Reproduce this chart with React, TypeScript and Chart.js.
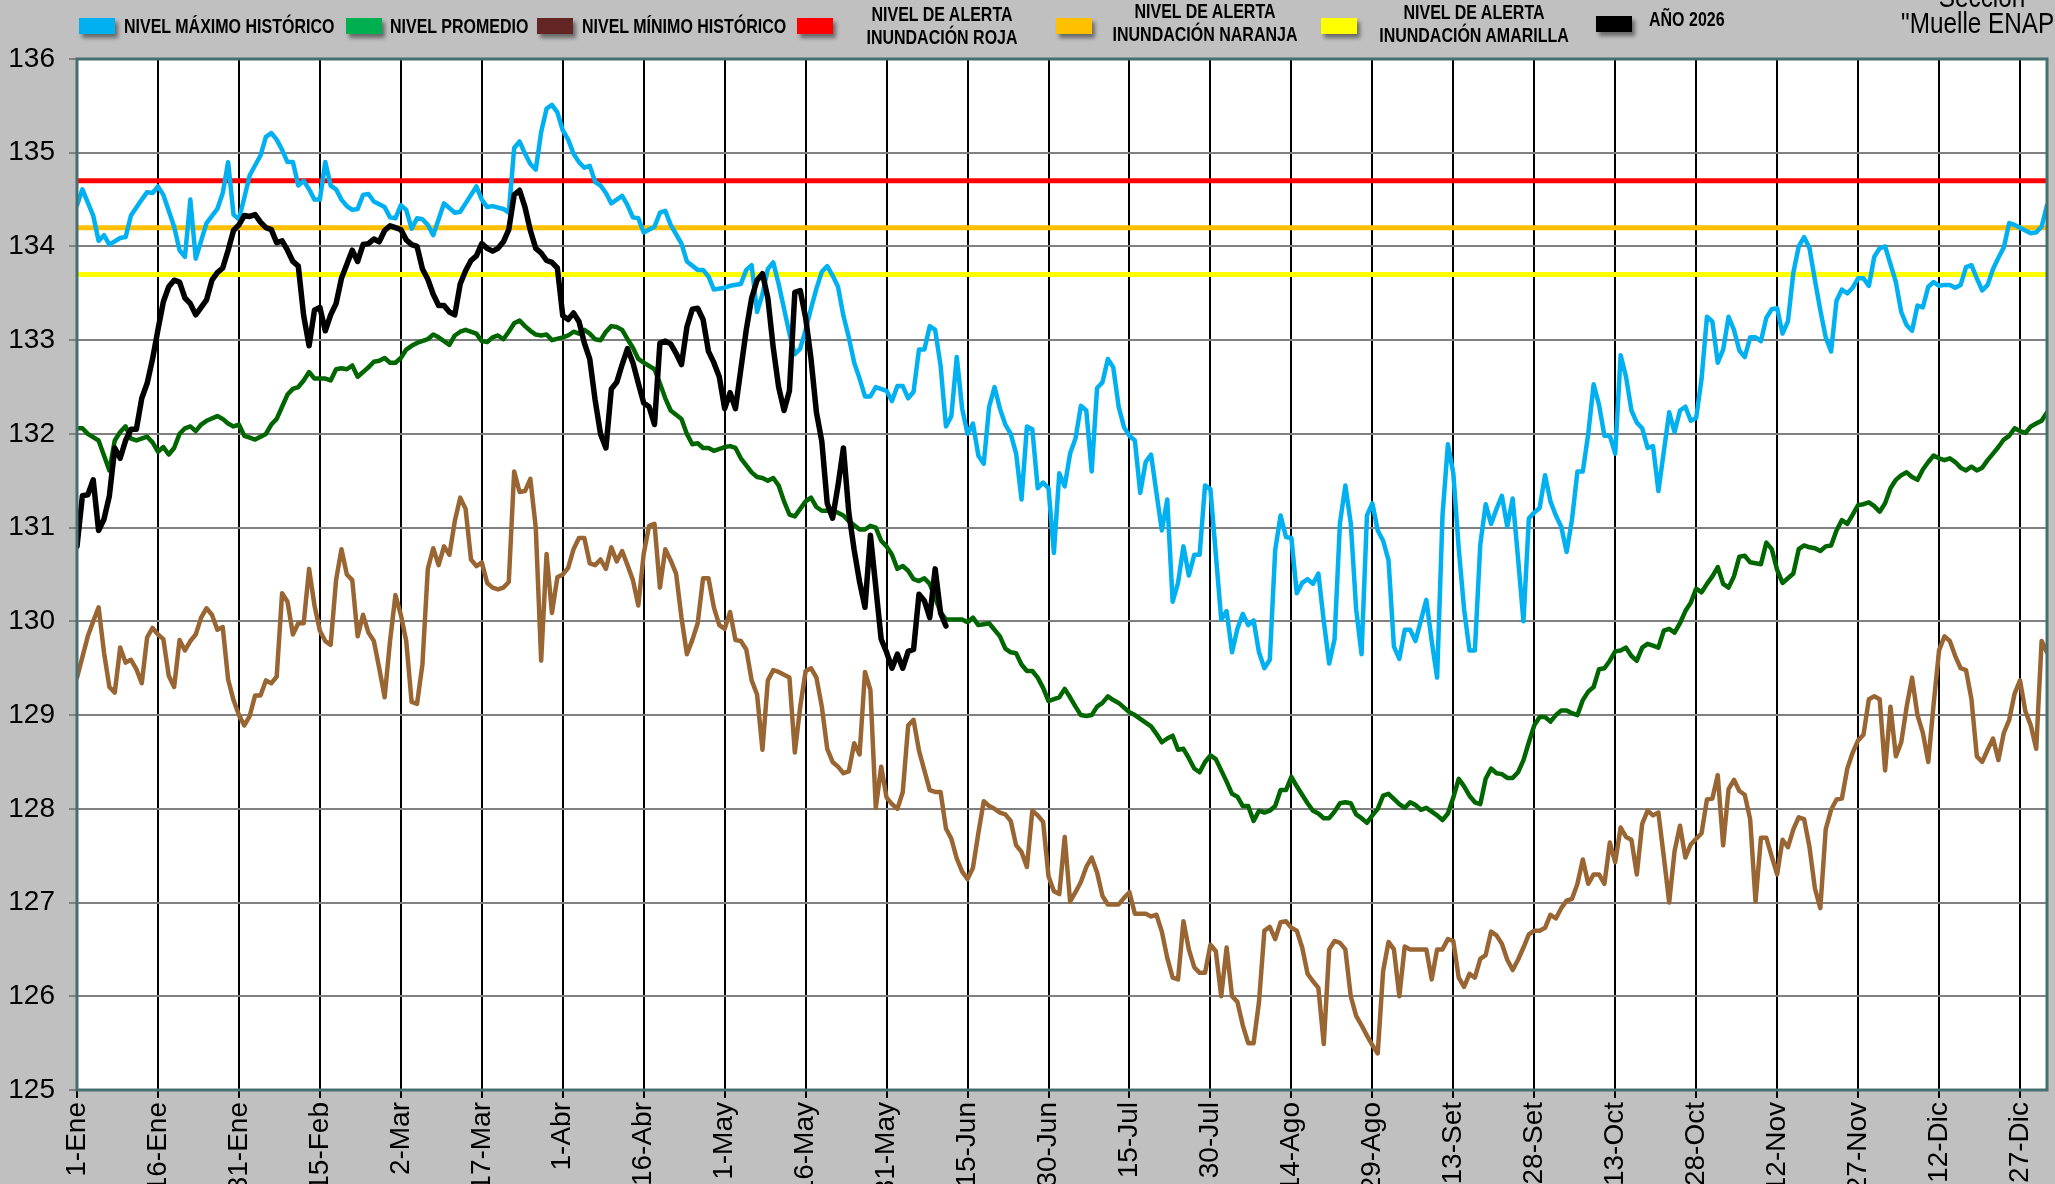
import React, { useEffect, useRef } from 'react';
import { Chart, registerables } from 'chart.js';

Chart.register(...registerables);

const W = 2055;
const H = 1184;

const tickDays = [1, 16, 31, 46, 61, 76, 91, 106, 121, 136, 151, 166, 181, 196, 211, 226, 241, 256, 271, 286, 301, 316, 331, 346, 361];
const tickLabels = ['1-Ene', '16-Ene', '31-Ene', '15-Feb', '2-Mar', '17-Mar', '1-Abr', '16-Abr', '1-May', '16-May', '31-May', '15-Jun', '30-Jun', '15-Jul', '30-Jul', '14-Ago', '29-Ago', '13-Set', '28-Set', '13-Oct', '28-Oct', '12-Nov', '27-Nov', '12-Dic', '27-Dic'];
const yTicks = [125, 126, 127, 128, 129, 130, 131, 132, 133, 134, 135, 136];

const alertaRoja = 134.7;
const alertaNaranja = 134.2;
const alertaAmarilla = 133.7;

// one value per day of the year (day 1 = 1-Ene); null = not read
const nivelMaximo = [
  134.44, 134.61, null, 134.33, 134.06, 134.12, 134.02, null, 134.09, 134.10,
  134.33, null, 134.50, 134.58, 134.57, 134.64, 134.55, 134.38, 134.21, 133.96,
  133.89, 134.50, 133.87, 134.06, 134.25, null, 134.40, 134.57, 134.90, 134.34,
  134.29, 134.52, 134.76, null, 134.97, 135.17, 135.21, 135.14, 135.03, 134.90,
  134.90, 134.65, 134.70, 134.61, 134.50, 134.50, 134.90, 134.65, 134.61, 134.50,
  134.43, 134.39, 134.40, 134.55, 134.56, 134.48, null, 134.42, 134.31, 134.30,
  134.44, 134.39, 134.19, 134.30, 134.29, 134.23, 134.12, 134.29, 134.46, null,
  134.36, 134.37, 134.46, 134.55, 134.64, 134.50, 134.42, 134.43, null, 134.40,
  134.36, 135.05, 135.12, 134.99, 134.88, 134.82, 135.22, 135.47, 135.51, 135.43,
  135.24, 135.14, 134.99, 134.90, 134.84, 134.86, 134.69, 134.65, 134.57, 134.46,
  null, 134.54, 134.44, 134.31, 134.30, 134.15, null, 134.21, 134.36, 134.38,
  134.23, null, 134.03, 133.84, null, 133.75, 133.75, 133.68, 133.54, null,
  133.56, 133.58, null, 133.60, 133.75, 133.80, 133.30, 133.49, 133.76, 133.83,
  133.60, null, 133.07, 132.85, 132.91, 133.11, 133.34, 133.55, 133.73, 133.79,
  133.69, 133.57, 133.26, 133.03, 132.76, 132.59, 132.40, 132.40, 132.50, null,
  132.46, 132.35, 132.51, 132.51, 132.38, 132.45, 132.90, 132.90, 133.15, 133.11,
  132.73, 132.08, 132.19, 132.82, 132.27, 132.00, 132.11, 131.77, 131.68, 132.29,
  132.50, 132.27, 132.10, 132.00, 131.79, 131.30, 132.08, 132.05, 131.42, 131.48,
  131.42, 130.73, 131.58, 131.44, 131.79, 131.95, 132.30, 132.25, 131.60, 132.49,
  132.55, 132.80, 132.71, 132.29, 132.07, 131.98, 131.93, 131.37, 131.70, 131.78,
  131.37, 130.97, 131.30, 130.21, 130.41, 130.80, 130.49, 130.71, 130.71, 131.45,
  131.41, null, 130.02, 130.11, 129.67, 129.92, 130.08, 129.96, 130.01, 129.67,
  129.50, 129.59, 130.76, 131.13, 130.90, 130.89, 130.30, 130.41, 130.45, 130.40,
  130.51, 130.00, 129.55, 129.81, 131.05, 131.45, 131.05, 130.13, 129.65, 131.13,
  131.26, 130.97, 130.86, 130.65, 129.73, 129.60, 129.91, 129.91, 129.79, 130.01,
  130.23, 129.79, 129.40, 131.13, 131.89, 131.58, 130.78, 130.13, 129.69, 129.69,
  130.82, 131.25, 131.04, 131.20, 131.34, 131.01, 131.31, 130.67, 130.00, 131.10,
  131.16, 131.21, 131.56, 131.28, 131.13, 131.01, 130.74, 131.09, 131.60, 131.60,
  132.00, 132.53, 132.31, 131.98, 131.98, 131.79, 132.84, 132.61, 132.25, 132.12,
  132.06, 131.85, 131.87, 131.39, 131.81, 132.23, 132.02, 132.25, 132.29, 132.14,
  132.17, 132.59, 133.25, 133.20, 132.76, 132.90, 133.25, 133.11, 132.89, 132.82,
  133.03, 133.03, 132.99, 133.24, 133.33, 133.34, 133.07, 133.20, 133.72, 134.00,
  134.10, 133.98, 133.64, 133.32, 133.03, 132.88, 133.42, 133.54, 133.50, 133.56,
  133.66, 133.66, 133.58, 133.89, 133.98, 134.00, 133.81, 133.62, 133.30, 133.16,
  133.10, 133.37, 133.35, 133.57, 133.62, 133.58, 133.59, 133.59, 133.56, 133.59,
  133.78, 133.80, 133.66, 133.53, 133.59, 133.76, 133.88, 133.99, 134.25, 134.23,
  null, 134.17, 134.14, 134.15, 134.21, 134.44,
];

const nivelPromedio = [
  132.06, 132.06, 132.00, null, 131.93, 131.77, 131.61, 131.93, 132.02, 132.08,
  131.95, 131.93, null, 131.97, 131.91, 131.81, 131.86, 131.78, 131.85, 132.00,
  132.06, 132.08, 132.03, 132.10, 132.14, null, 132.19, 132.16, 132.11, 132.08,
  132.10, 131.98, 131.96, 131.94, null, 132.00, 132.10, 132.16, 132.29, 132.42,
  132.48, 132.50, 132.57, 132.66, 132.59, null, 132.59, 132.57, 132.69, 132.70,
  132.69, 132.73, 132.61, null, 132.71, 132.77, 132.78, 132.81, 132.76, 132.76,
  132.81, 132.90, 132.94, 132.97, null, 133.01, 133.06, 133.03, 132.99, 132.95,
  133.05, 133.09, 133.11, null, 133.07, 132.99, 132.98, 133.03, 133.05, 133.01,
  133.09, 133.18, 133.21, 133.15, 133.10, 133.06, 133.05, 133.06, 133.00, null,
  133.03, 133.05, 133.09, 133.07, 133.11, 133.07, 133.01, 133.00, 133.09, 133.15,
  133.14, 133.11, 133.01, 132.92, 132.80, 132.76, null, 132.69, 132.54, 132.38,
  132.25, null, 132.16, 132.00, 131.89, 131.90, 131.85, 131.85, 131.82, null,
  131.86, 131.87, 131.85, 131.74, null, 131.59, 131.54, 131.53, 131.50, 131.53,
  131.45, 131.28, 131.14, 131.12, 131.20, 131.28, 131.32, 131.22, 131.18, null,
  131.18, 131.16, 131.13, 131.07, null, 130.98, 130.98, 131.02, 131.00, 130.86,
  130.80, 130.71, 130.56, 130.59, 130.54, 130.45, 130.43, 130.46, 130.40, 130.25,
  130.10, 130.02, null, 130.02, 130.02, 129.99, 130.04, 129.96, 129.97, 129.98,
  null, 129.84, 129.71, 129.67, 129.66, 129.54, 129.47, 129.47, 129.40, 129.29,
  129.15, 129.17, 129.19, 129.28, 129.19, 129.09, 129.00, 128.99, 129.00, 129.09,
  129.13, 129.20, 129.16, 129.13, 129.08, 129.03, 129.00, 128.96, 128.92, 128.88,
  128.80, 128.71, 128.75, 128.78, 128.63, 128.64, 128.54, 128.43, 128.39, 128.50,
  128.57, 128.53, 128.41, 128.29, 128.16, 128.13, 128.03, 128.03, 127.87, 127.98,
  127.96, 127.98, 128.03, 128.20, 128.20, 128.34, 128.24, 128.15, 128.06, 127.98,
  127.95, 127.90, 127.90, 127.97, 128.06, 128.07, 128.06, 127.94, 127.90, 127.85,
  127.93, 128.00, 128.14, 128.16, null, 128.05, 128.01, 128.07, 128.04, 127.99,
  128.01, 127.97, 127.93, 127.88, 127.95, 128.12, 128.32, 128.24, 128.14, 128.07,
  128.05, 128.32, 128.43, 128.38, 128.37, 128.33, 128.33, 128.39, 128.52, 128.71,
  128.89, 128.98, 128.98, 128.93, 129.00, 129.05, 129.05, 129.02, 129.00, 129.16,
  129.25, 129.30, 129.49, 129.50, 129.58, 129.68, 129.69, 129.72, 129.63, 129.58,
  129.72, 129.76, 129.74, 129.72, 129.90, 129.92, 129.88, 129.98, 130.11, 130.20,
  130.35, 130.31, 130.40, 130.48, 130.58, 130.40, 130.36, 130.48, 130.69, 130.70,
  130.63, 130.62, 130.61, 130.84, 130.77, 130.55, 130.41, 130.46, 130.51, 130.77,
  130.81, 130.79, 130.78, 130.75, 130.80, 130.81, 130.97, 131.08, 131.04, 131.14,
  131.24, 131.25, 131.27, 131.23, 131.17, 131.26, 131.42, 131.51, 131.56, 131.59,
  131.54, 131.51, 131.62, 131.70, 131.77, 131.74, 131.72, 131.74, 131.70, 131.64,
  131.61, 131.65, 131.61, 131.64, 131.72, 131.79, 131.86, 131.94, 131.98, 132.06,
  132.03, 132.01, 132.08, 132.11, 132.14, 132.23,
];

const nivelMinimo = [
  129.40, null, 129.84, 130.00, 130.15, 129.67, 129.30, 129.24, 129.72, 129.56,
  129.59, 129.49, 129.34, 129.83, 129.93, 129.86, 129.81, 129.42, 129.30, 129.80,
  129.69, 129.79, 129.86, 130.04, 130.14, 130.07, 129.91, 129.94, 129.38, 129.16,
  129.00, 128.89, 128.99, 129.21, 129.21, 129.37, 129.34, 129.41, 130.30, 130.21,
  129.86, 129.98, 129.98, 130.56, 130.17, 129.90, 129.79, 129.75, 130.44, 130.77,
  130.50, 130.44, 129.84, 130.07, 129.88, 129.79, 129.50, 129.19, 129.79, 130.28,
  130.07, 129.79, 129.14, 129.12, 129.54, 130.56, 130.78, 130.60, 130.80, 130.71,
  131.07, 131.32, 131.20, 130.66, 130.59, 130.63, 130.41, 130.36, 130.34, 130.36,
  130.42, 131.60, 131.38, 131.39, 131.52, 131.00, 129.58, 130.72, 130.09, 130.47,
  130.50, 130.57, 130.77, 130.89, 130.89, 130.62, 130.60, 130.66, 130.56, 130.79,
  130.64, 130.75, 130.60, 130.44, 130.17, 130.72, 131.02, 131.04, 130.36, 130.77,
  130.65, 130.51, 130.04, 129.65, 129.80, 129.98, 130.46, 130.46, 130.15, 129.96,
  129.92, 130.10, 129.80, 129.79, 129.70, 129.37, 129.22, 128.63, 129.37, 129.48,
  129.46, null, 129.40, 128.60, 129.09, 129.47, 129.50, 129.40, 129.09, 128.64,
  128.50, 128.45, 128.38, 128.40, 128.70, 128.58, 129.46, 129.27, 128.01, 128.45,
  128.12, 128.05, 128.00, 128.18, 128.89, 128.95, 128.62, 128.41, 128.20, 128.18,
  128.18, 127.79, 127.68, 127.47, 127.33, 127.25, 127.37, 127.74, 128.08, 128.03,
  128.00, 127.96, 127.94, 127.87, 127.61, 127.54, 127.38, 127.98, 127.93, 127.86,
  127.28, 127.12, 127.09, 127.70, 127.01, 127.11, 127.22, 127.38, 127.48, 127.32,
  127.07, 126.98, 126.98, 126.98, 127.05, 127.11, 126.88, 126.88, 126.88, 126.85,
  126.87, 126.69, 126.41, 126.20, 126.18, 126.80, 126.50, 126.31, 126.25, 126.25,
  126.55, 126.48, 126.00, 126.52, 126.00, 125.94, 125.69, 125.50, 125.50, 125.94,
  126.70, 126.74, 126.61, 126.79, 126.80, 126.73, 126.70, 126.52, 126.24, 126.16,
  126.09, 125.49, 126.50, 126.59, 126.57, 126.50, 126.00, 125.79, 125.69, 125.58,
  125.48, 125.39, 126.27, 126.58, 126.50, 126.00, 126.53, 126.50, 126.50, 126.50,
  126.50, 126.18, 126.50, 126.50, 126.61, 126.59, 126.20, 126.10, 126.24, 126.20,
  126.40, 126.44, 126.69, 126.65, 126.56, 126.39, 126.28, 126.39, 126.52, 126.66,
  126.70, 126.70, 126.73, 126.87, 126.83, 126.94, 127.02, 127.04, 127.20, 127.46,
  127.20, 127.30, 127.30, 127.20, 127.64, 127.43, 127.80, 127.70, 127.67, 127.30,
  127.84, 127.98, 127.93, 127.96, 127.49, 127.00, 127.55, 127.82, 127.48, 127.62,
  127.68, 127.74, 128.10, 128.11, 128.36, 127.61, 128.21, 128.31, 128.19, 128.15,
  127.89, 127.01, 127.69, 127.69, 127.49, 127.30, 127.67, 127.59, 127.78, 127.91,
  127.89, 127.59, 127.15, 126.94, 127.78, 127.99, 128.10, 128.11, 128.43, 128.60,
  128.73, 128.79, 129.17, 129.20, 129.17, 128.41, 129.09, 128.56, 128.71, 129.09,
  129.40, 129.00, 128.81, 128.50, 129.12, 129.69, 129.84, 129.79, 129.63, 129.50,
  129.48, 129.17, 128.56, 128.50, 128.63, 128.75, 128.52, 128.81, 128.95, 129.23,
  129.37, 129.04, 128.89, 128.64, 129.79, 129.67,
];

const anio2026 = [
  130.80, 131.34, 131.35, 131.51, 130.97, 131.09, 131.34, 131.85, 131.74, 131.93,
  132.05, 132.05, 132.38, 132.54, 132.80, 133.11, 133.41, 133.57, 133.64, 133.62,
  133.45, 133.39, 133.27, 133.35, 133.43, 133.64, 133.72, 133.77, 133.96, 134.17,
  134.23, 134.33, 134.32, 134.34, 134.26, 134.20, 134.18, 134.04, 134.06, 133.96,
  133.84, 133.79, 133.26, 132.94, 133.32, 133.35, 133.10, 133.27, 133.39, 133.66,
  133.81, 133.96, 133.84, 134.02, 134.03, 134.08, 134.05, 134.17, 134.22, 134.20,
  134.18, 134.07, 134.02, 134.00, 133.76, 133.65, 133.49, 133.37, 133.37, 133.30,
  133.27, 133.60, 133.74, 133.85, 133.90, 134.03, 133.98, 133.95, 133.98, 134.05,
  134.18, 134.55, 134.60, 134.42, 134.17, 133.98, 133.93, 133.85, 133.83, 133.77,
  133.26, 133.22, 133.29, 133.20, 132.97, 132.80, 132.36, 132.00, 131.85, 132.48,
  132.55, 132.74, 132.91, 132.76, 132.54, 132.33, 132.29, 132.10, 132.97, 132.99,
  132.96, 132.86, 132.74, 133.14, 133.33, 133.34, 133.22, 132.88, 132.76, 132.61,
  132.27, 132.44, 132.27, 132.69, 133.11, 133.45, 133.64, 133.71, 133.45, 132.92,
  132.50, 132.25, 132.46, 133.51, 133.53, 133.24, 132.80, 132.23, 131.92, 131.26,
  131.10, 131.45, 131.85, 131.16, 130.76, 130.42, 130.15, 130.92, null, 129.81,
  129.67, 129.50, 129.65, 129.50, 129.68, 129.70, 130.29, 130.22, 130.04, 130.56,
  130.09, 129.95,
];

const SANS = "'Liberation Sans', Arial, sans-serif";

const toPoints = (arr: (number | null)[]) => arr.map((v, i) => ({ x: i + 1, y: v }));
const flat = (v: number) => [{ x: 1, y: v }, { x: 366, y: v }];

const plotFrame = {
  id: 'plotFrame',
  beforeDraw(chart: any) {
    const { ctx, chartArea } = chart;
    ctx.save();
    ctx.fillStyle = '#c0c0c0';
    ctx.fillRect(0, 0, chart.width, chart.height);
    ctx.fillStyle = '#ffffff';
    ctx.fillRect(chartArea.left, chartArea.top, chartArea.right - chartArea.left, chartArea.bottom - chartArea.top);
    ctx.restore();
  },
  afterDatasetsDraw(chart: any) {
    const { ctx, chartArea } = chart;
    ctx.save();
    ctx.strokeStyle = '#45706f';
    ctx.lineWidth = 3;
    ctx.strokeRect(chartArea.left, chartArea.top, chartArea.right - chartArea.left, chartArea.bottom - chartArea.top);
    ctx.restore();
  },
};

function LegendBox({ x, y, color }: { x: number; y: number; color: string }) {
  return (
    <div
      style={{
        position: 'absolute', left: x, top: y, width: 36, height: 16, background: color,
        boxShadow: '3px 4px 4px rgba(0,0,0,0.45)',
      }}
    />
  );
}

const legendText: React.CSSProperties = {
  position: 'absolute', fontFamily: SANS, fontWeight: 700, fontSize: 20, color: '#000',
  whiteSpace: 'nowrap', lineHeight: '23px', transform: 'scaleX(0.8)', transformOrigin: 'left top',
};
const legendBlock: React.CSSProperties = {
  ...legendText, width: 300, textAlign: 'center', transformOrigin: 'center top',
};

export default function App() {
  const canvasRef = useRef<HTMLCanvasElement | null>(null);

  useEffect(() => {
    const canvas = canvasRef.current;
    if (!canvas) return;
    const line = (label: string, data: any[], color: string, width: number) => ({
      label, data, borderColor: color, backgroundColor: color, borderWidth: width,
      pointRadius: 0, tension: 0, spanGaps: true, fill: false,
      borderJoinStyle: 'round' as const, borderCapStyle: 'round' as const,
    });
    const chart = new Chart(canvas, {
      type: 'line',
      data: {
        datasets: [
          line('AÑO 2026', toPoints(anio2026), '#000000', 5.5),
          line('NIVEL MÁXIMO HISTÓRICO', toPoints(nivelMaximo), '#00b0f0', 4.5),
          line('NIVEL PROMEDIO', toPoints(nivelPromedio), '#006600', 4.5),
          line('NIVEL MÍNIMO HISTÓRICO', toPoints(nivelMinimo), '#996633', 4.5),
          line('NIVEL DE ALERTA INUNDACIÓN ROJA', flat(alertaRoja), '#ff0000', 5),
          line('NIVEL DE ALERTA INUNDACIÓN NARANJA', flat(alertaNaranja), '#ffc000', 5),
          line('NIVEL DE ALERTA INUNDACIÓN AMARILLA', flat(alertaAmarilla), '#ffff00', 5),
        ],
      },
      options: {
        animation: false,
        responsive: false,
        devicePixelRatio: 1,
        layout: { padding: { top: 59, right: 8, left: 0, bottom: 0 } },
        plugins: { legend: { display: false }, tooltip: { enabled: false } },
        scales: {
          x: {
            type: 'linear',
            min: 1,
            max: 366,
            afterBuildTicks: (s: any) => { s.ticks = tickDays.map((v) => ({ value: v })); },
            afterFit: (s: any) => { s.height = 94; s.paddingLeft = 0; s.paddingRight = 0; },
            ticks: {
              autoSkip: false, minRotation: 90, maxRotation: 90, padding: 4, color: '#000',
              font: { family: SANS, size: 28 },
              callback: (_v: any, i: number) => tickLabels[i],
            },
            grid: { color: '#000000', lineWidth: 2, tickLength: 8, drawTicks: true },
            border: { display: false },
          },
          y: {
            min: 125,
            max: 136,
            afterBuildTicks: (s: any) => { s.ticks = yTicks.map((v) => ({ value: v })); },
            afterFit: (s: any) => { s.width = 77; s.paddingTop = 0; s.paddingBottom = 0; },
            ticks: { padding: 14, color: '#000', font: { family: SANS, size: 28 } },
            grid: { color: '#808080', lineWidth: 2, tickLength: 8, drawTicks: true },
            border: { display: false },
          },
        },
      },
      plugins: [plotFrame],
    });
    return () => chart.destroy();
  }, []);

  return (
    <div style={{ position: 'fixed', left: 0, top: 0, width: W, height: H, overflow: 'hidden', background: '#c0c0c0' }}>
      <canvas ref={canvasRef} width={W} height={H} style={{ position: 'absolute', left: 0, top: 0, width: W, height: H }} />
      <LegendBox x={79} y={18} color="#00b0f0" />
      <div style={{ ...legendText, left: 124, top: 15 }}>NIVEL MÁXIMO HISTÓRICO</div>
      <LegendBox x={346} y={18} color="#00b050" />
      <div style={{ ...legendText, left: 390, top: 15 }}>NIVEL PROMEDIO</div>
      <LegendBox x={537} y={18} color="#632523" />
      <div style={{ ...legendText, left: 582, top: 15 }}>NIVEL MÍNIMO HISTÓRICO</div>
      <LegendBox x={797} y={18} color="#ff0000" />
      <div style={{ ...legendBlock, left: 792, top: 3 }}>NIVEL DE ALERTA<br />INUNDACIÓN ROJA</div>
      <LegendBox x={1056} y={18} color="#ffc000" />
      <div style={{ ...legendBlock, left: 1055, top: 0 }}>NIVEL DE ALERTA<br />INUNDACIÓN NARANJA</div>
      <LegendBox x={1321} y={18} color="#ffff00" />
      <div style={{ ...legendBlock, left: 1324, top: 1 }}>NIVEL DE ALERTA<br />INUNDACIÓN AMARILLA</div>
      <LegendBox x={1596} y={16} color="#000000" />
      <div style={{ ...legendText, left: 1649, top: 8 }}>AÑO 2026</div>
      <div style={{ position: 'absolute', left: 1832, width: 300, top: -16, textAlign: 'center', fontFamily: SANS, fontSize: 30, lineHeight: '26px', color: '#000', whiteSpace: 'nowrap', transform: 'scaleX(0.81)', transformOrigin: 'center top' }}>
        Sección<br />"Muelle ENAP"
      </div>
    </div>
  );
}
